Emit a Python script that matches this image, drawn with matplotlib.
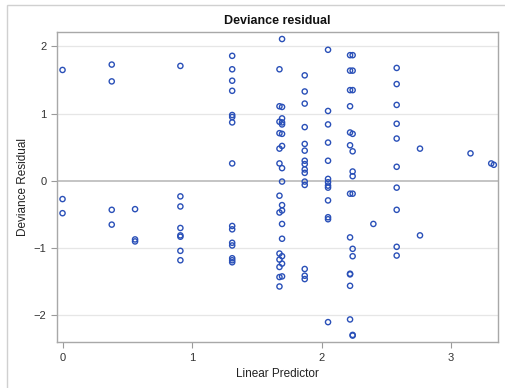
import matplotlib
matplotlib.use("Agg")
import matplotlib.pyplot as plt
from matplotlib.patches import Rectangle

plt.rcParams['font.family'] = ['Liberation Sans', 'DejaVu Sans']

# Linear predictor values (x) and deviance residuals (y), grouped by column
x_c0 = [0.0, 0.0, 0.0]
y_c0 = [1.65, -0.27, -0.48]
x_c1 = [0.38, 0.38, 0.38, 0.38]
y_c1 = [1.73, 1.48, -0.43, -0.65]
x_c2 = [0.56, 0.56, 0.56]
y_c2 = [-0.42, -0.87, -0.90]
x_c3 = [0.91] * 8
y_c3 = [1.71, -0.23, -0.38, -0.70, -0.81, -0.83, -1.04, -1.18]
x_c4 = [1.31] * 15
y_c4 = [1.86, 1.66, 1.49, 1.34, 0.98, 0.95, 0.87, 0.26,
        -0.67, -0.72, -0.92, -0.96, -1.15, -1.18, -1.21]
x_c5 = [1.695, 1.675, 1.675, 1.695, 1.695, 1.675, 1.695, 1.695, 1.675, 1.695,
        1.675, 1.695, 1.675, 1.695, 1.695, 1.675, 1.695, 1.695, 1.675, 1.695,
        1.695, 1.675, 1.695, 1.675, 1.695, 1.675, 1.695, 1.675, 1.675]
y_c5 = [2.11, 1.66, 1.11, 1.10, 0.93, 0.88, 0.87, 0.84, 0.71, 0.70,
        0.48, 0.52, 0.26, 0.19, -0.01, -0.22, -0.36, -0.44, -0.47, -0.64,
        -0.86, -1.08, -1.12, -1.17, -1.23, -1.28, -1.42, -1.43, -1.57]
x_c6 = [1.87] * 15
y_c6 = [1.57, 1.33, 1.15, 0.80, 0.55, 0.45, 0.30, 0.25, 0.17, 0.12,
        -0.01, -0.06, -1.31, -1.41, -1.46]
x_c7 = [2.05] * 13
y_c7 = [1.95, 1.04, 0.84, 0.57, 0.30, 0.03, -0.02, -0.07, -0.10, -0.29,
        -0.54, -0.57, -2.10]
x_c8 = [2.22, 2.24, 2.22, 2.24, 2.22, 2.24, 2.22, 2.22, 2.24, 2.22,
        2.24, 2.24, 2.24, 2.22, 2.24, 2.24, 2.22, 2.24, 2.22, 2.22, 2.22,
        2.24, 2.22, 2.24]
y_c8 = [1.87, 1.87, 1.64, 1.64, 1.35, 1.35, 1.11, 0.72, 0.70, 0.53,
        0.44, 0.14, 0.07, -0.19, -0.19, -1.01, -0.84, -1.12, -1.39, -1.38,
        -1.56, -2.29, -2.06, -2.30]
x_c9 = [2.58] * 10
y_c9 = [1.68, 1.44, 1.13, 0.85, 0.63, 0.21, -0.10, -0.43, -0.98, -1.11]
x_c10 = [2.40, 2.76, 2.76, 3.15, 3.31, 3.33]
y_c10 = [-0.64, 0.48, -0.81, 0.41, 0.26, 0.24]

xs = x_c0 + x_c1 + x_c2 + x_c3 + x_c4 + x_c5 + x_c6 + x_c7 + x_c8 + x_c9 + x_c10
ys = y_c0 + y_c1 + y_c2 + y_c3 + y_c4 + y_c5 + y_c6 + y_c7 + y_c8 + y_c9 + y_c10

x_ticks = [0, 1, 2, 3]
y_ticks = [-2, -1, 0, 1, 2]

W, H = 505, 388
fig = plt.figure(figsize=(W / 100, H / 100), dpi=100)
ax = fig.add_axes([56.7 / W, 1 - 342.3 / H, (497.7 - 56.7) / W, (342.3 - 32.3) / H])

# outer panel frame
fig.add_artist(Rectangle((7 / W, -0.1), 1.2, 1 - 5 / H + 0.1,
                         transform=fig.transFigure, fill=False,
                         edgecolor='#d0d0d0', linewidth=1.0))

for yv in [-2, -1, 1, 2]:
    ax.axhline(yv, color='#e6e6e6', linewidth=0.9, zorder=0)
ax.axhline(0, color='#b4b4b4', linewidth=1.1, zorder=1)

ax.scatter(xs, ys, s=14, facecolors='none', edgecolors='#2a50b8',
           linewidths=1.0, zorder=3)

ax.set_xlim(-0.045, 3.36)
ax.set_ylim(-2.40, 2.21)
ax.set_xticks(x_ticks)
ax.set_yticks(y_ticks)
ax.tick_params(axis='both', colors='#9a9a9a', labelcolor='#333333',
               labelsize=8, length=4, width=0.8)
for sp in ax.spines.values():
    sp.set_color('#a8a8a8')
    sp.set_linewidth(1.0)

ax.set_xlabel('Linear Predictor', fontsize=8.5, color='#222222', labelpad=4)
ax.set_ylabel('Deviance Residual', fontsize=8.5, color='#222222', labelpad=3)
ax.set_title('Deviance residual', fontsize=9, fontweight='bold',
             color='#111111', pad=6)

fig.savefig('out.png', dpi=100)
